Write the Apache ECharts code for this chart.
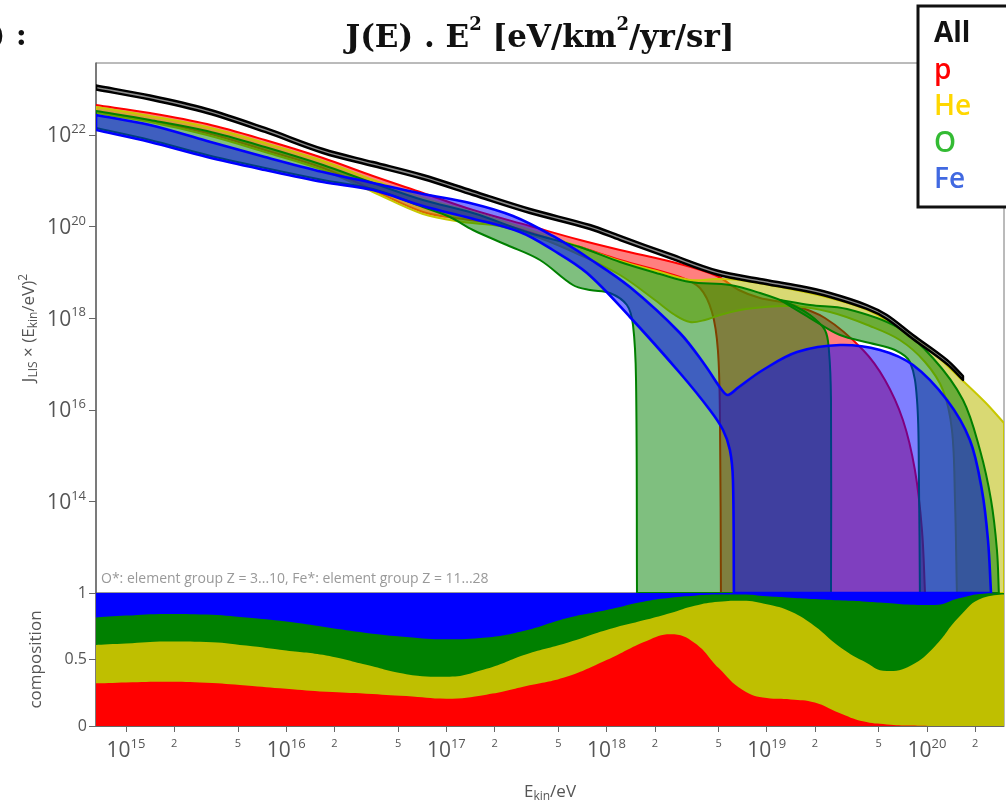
<!DOCTYPE html>
<html>
<head>
<meta charset="utf-8">
<script src="https://cdn.jsdelivr.net/npm/echarts@6.0.0/dist/echarts.min.js"></script>
<style>
  html, body { margin: 0; padding: 0; background: #fff; }
  #chart { width: 1006px; height: 803px; }
</style>
</head>
<body>
<div id="chart"></div>
<script>
// Energy axis in log10(E_kin / eV); flux axis in log10(J_LIS * E^2)
const xTickExponents = [15, 16, 17, 18, 19, 20];
const xMinorMultipliers = [2, 5];
const yTickExponents = [14, 16, 18, 20, 22];
const compTicks = [0, 0.5, 1];

// All-particle band [log10 E, log10 J*E^2]
const allUpper = [[14.813,23.081],[15.150,22.862],[15.506,22.568],[15.868,22.153],[16.230,21.694],[16.542,21.410],[16.854,21.127],[17.166,20.777],[17.522,20.384],[17.896,20.035],[18.084,19.795],[18.396,19.402],[18.689,19.041],[18.958,18.856],[19.207,18.703],[19.395,18.550],[19.625,18.288],[19.750,18.070],[19.913,17.633],[20.125,17.087],[20.225,16.738]];
const allLower = [[14.813,22.993],[15.150,22.775],[15.506,22.480],[15.868,22.066],[16.230,21.607],[16.542,21.323],[16.854,21.039],[17.166,20.690],[17.522,20.297],[17.896,19.948],[18.084,19.707],[18.396,19.314],[18.689,18.954],[18.958,18.769],[19.207,18.616],[19.395,18.463],[19.625,18.201],[19.750,17.983],[19.913,17.546],[20.125,17.000],[20.225,16.651]];

// Proton band
const pUpper = [[14.813,22.655],[15.150,22.480],[15.506,22.240],[15.868,21.891],[16.230,21.498],[16.542,21.105],[16.854,20.734],[17.166,20.362],[17.522,20.013],[17.834,19.707],[18.084,19.489],[18.458,19.183],[18.689,18.921],[18.826,18.616],[18.958,18.441],[19.145,18.310],[19.363,18.004],[19.601,17.306],[19.738,16.651],[19.850,15.777],[19.925,14.686],[19.969,13.376],[19.988,12.000]];
const pLower = [[14.813,22.502],[15.150,22.306],[15.506,22.044],[15.868,21.672],[16.230,21.279],[16.542,20.799],[16.854,20.319],[17.104,20.166],[17.335,20.057],[17.522,19.882],[17.834,19.555],[18.084,19.271],[18.458,18.900],[18.583,18.659],[18.658,18.135],[18.695,17.306],[18.708,15.777],[18.714,12.000]];

// Helium band
const heUpper = [[14.813,22.611],[15.150,22.415],[15.506,22.175],[15.868,21.825],[16.230,21.432],[16.542,21.017],[16.854,20.624],[17.166,20.319],[17.522,19.926],[17.834,19.555],[18.084,19.249],[18.333,19.009],[18.521,18.834],[18.689,18.856],[18.826,18.834],[19.082,18.681],[19.395,18.441],[19.644,18.157],[19.831,17.764],[20.019,17.306],[20.206,16.694],[20.362,16.170],[20.481,15.712]];
const heLower = [[14.813,22.480],[15.150,22.284],[15.506,22.000],[15.868,21.629],[16.230,21.236],[16.542,20.755],[16.854,20.275],[17.104,20.100],[17.335,20.013],[17.584,19.751],[17.834,19.380],[18.084,18.943],[18.302,18.397],[18.427,18.070],[18.521,17.917],[18.614,17.961],[18.708,18.070],[18.870,18.201],[19.145,18.266],[19.395,18.135],[19.644,17.830],[19.831,17.524],[19.988,17.044],[20.100,16.432],[20.156,15.559],[20.175,14.031],[20.187,12.000],[20.481,12.000]];

// O* group band (two components)
const oUpper = [[14.813,22.524],[15.150,22.328],[15.506,22.087],[15.868,21.738],[16.230,21.345],[16.542,20.952],[16.854,20.581],[17.166,20.297],[17.522,19.860],[17.834,19.555],[18.084,19.227],[18.333,18.965],[18.521,18.790],[18.770,18.725],[18.958,18.550],[19.145,18.310],[19.270,18.070],[19.363,17.742],[19.388,17.306],[19.401,16.214],[19.401,12.000]];
const oLower = [[14.813,22.153],[15.150,21.891],[15.506,21.563],[15.868,21.279],[16.230,21.017],[16.542,20.821],[16.854,20.428],[17.022,20.210],[17.166,19.926],[17.378,19.598],[17.584,19.271],[17.790,18.725],[17.896,18.616],[18.021,18.550],[18.127,18.288],[18.165,17.852],[18.184,16.651],[18.190,12.000]];
const oHighUpper = [[19.082,18.397],[19.270,18.288],[19.501,18.201],[19.813,17.808],[20.037,17.131],[20.225,16.214],[20.331,15.122],[20.400,14.031],[20.437,12.939],[20.449,12.000]];
const oHighLower = [[19.082,18.397],[19.270,18.004],[19.457,17.633],[19.644,17.459],[19.800,17.306],[19.894,17.044],[19.938,16.214],[19.950,14.467],[19.956,12.000]];

// Fe* group band
const feUpper = [[14.813,22.437],[15.150,22.218],[15.506,21.869],[15.868,21.520],[16.230,21.192],[16.542,20.952],[16.854,20.712],[17.147,20.515],[17.416,20.231],[17.665,19.795],[17.896,19.293],[18.146,18.681],[18.458,17.677],[18.614,16.978],[18.720,16.432],[18.758,16.323],[18.826,16.498],[18.976,16.869],[19.189,17.262],[19.457,17.415],[19.707,17.306],[19.913,16.978],[20.125,16.214],[20.268,15.341],[20.343,14.249],[20.381,13.157],[20.400,12.000]];
const feLower = [[14.813,22.109],[15.150,21.847],[15.506,21.520],[15.868,21.236],[16.230,20.974],[16.542,20.799],[16.854,20.450],[17.147,20.188],[17.459,19.882],[17.665,19.489],[17.878,18.987],[18.146,18.026],[18.458,16.803],[18.645,15.996],[18.727,15.559],[18.770,15.122],[18.789,14.467],[18.795,12.000]];

// Composition fractions vs log10 E
const compEnergy = [14.8,15.0,15.25,15.5,15.75,16.0,16.25,16.5,16.75,17.0,17.25,17.5,17.75,18.0,18.25,18.4,18.55,18.7,18.85,19.0,19.15,19.3,19.45,19.6,19.75,19.9,20.05,20.2,20.35,20.5];
const compP  = [0.32,0.328,0.333,0.325,0.305,0.28,0.257,0.243,0.225,0.205,0.235,0.30,0.37,0.496,0.64,0.69,0.625,0.436,0.27,0.21,0.20,0.177,0.10,0.035,0.012,0.003,0,0,0,0];
const compHe = [0.289,0.292,0.302,0.307,0.30,0.287,0.273,0.217,0.165,0.165,0.195,0.24,0.254,0.226,0.16,0.16,0.28,0.499,0.672,0.705,0.66,0.573,0.50,0.455,0.401,0.452,0.60,0.82,0.965,0.99];
const compO  = [0.206,0.21,0.208,0.206,0.21,0.218,0.212,0.24,0.28,0.282,0.235,0.18,0.186,0.15,0.14,0.115,0.075,0.053,0.046,0.06,0.105,0.205,0.345,0.447,0.512,0.457,0.31,0.14,0.03,0.01];
const compFe = [0.185,0.17,0.157,0.162,0.185,0.215,0.258,0.30,0.33,0.348,0.335,0.28,0.19,0.128,0.06,0.035,0.02,0.012,0.012,0.025,0.035,0.045,0.055,0.063,0.075,0.088,0.09,0.04,0.005,0];

const legendNames = ['All', 'p', 'He', 'O', 'Fe'];
const legendColors = ['#111111', '#ff0000', '#ffd700', '#33bb33', '#4169e1'];

const X_MIN = 14.813, X_MAX = 20.481, Y_MIN = 12, Y_MAX = 23.572;
const SANS = "'Open Sans', 'Noto Sans', sans-serif";
const SERIF = "'DejaVu Serif', serif";
const LABEL = '#555';

const xTicks = [];
xTickExponents.forEach(e => {
  xTicks.push(e);
  xMinorMultipliers.forEach(m => {
    const v = e + Math.log10(m);
    if (v <= X_MAX) xTicks.push(v);
  });
});
xTicks.sort((a, b) => a - b);

const powRich = {
  b: { fontFamily: SANS, fontSize: 21, lineHeight: 24, verticalAlign: 'bottom', color: LABEL },
  s: { fontFamily: SANS, fontSize: 13, lineHeight: 12, verticalAlign: 'top', color: LABEL },
  m: { fontFamily: SANS, fontSize: 11, lineHeight: 12, verticalAlign: 'top', color: LABEL }
};
const nameRich = {
  n: { fontFamily: SANS, fontSize: 17, lineHeight: 22, verticalAlign: 'middle', color: LABEL, fill: LABEL },
  sub: { fontFamily: SANS, fontSize: 12, lineHeight: 14, verticalAlign: 'bottom', color: LABEL, fill: LABEL },
  sup: { fontFamily: SANS, fontSize: 12, lineHeight: 12, verticalAlign: 'top', color: LABEL, fill: LABEL }
};

// Filled uncertainty band: upper edge left to right, lower edge back
function bandSeries(name, upper, lower, fill, stroke, lineWidth) {
  return {
    type: 'custom',
    name: name,
    xAxisIndex: 0,
    yAxisIndex: 0,
    data: upper.concat(lower.slice().reverse()),
    clip: true,
    silent: true,
    renderItem: function (params, api) {
      if (params.dataIndex !== 0) return null;
      const cs = params.coordSys;
      const pts = [];
      const add = (arr, i) => {
        const c = api.coord(arr[i]);
        pts.push(c);
        if (i === 0 || i === arr.length - 1 || arr[i][1] <= Y_MIN) pts.push(c.slice());
      };
      for (let i = 0; i < upper.length; i++) add(upper, i);
      for (let i = lower.length - 1; i >= 0; i--) add(lower, i);
      return {
        type: 'polygon',
        shape: {
          points: pts,
          smooth: 0.35,
          smoothConstraint: [[cs.x, cs.y], [cs.x + cs.width, cs.y + cs.height]]
        },
        style: { fill: fill, stroke: stroke, lineWidth: lineWidth, lineJoin: 'round' }
      };
    }
  };
}

// Cumulative composition layers, painted from the top layer down
const layers = [compP, compHe, compO, compFe];
const cumulative = layers.map((_, k) =>
  compEnergy.map((e, i) => {
    let s = 0;
    for (let j = 0; j <= k; j++) s += layers[j][i];
    return [e, Math.min(1, s)];
  })
);

function compSeries(name, data, color) {
  return {
    type: 'line',
    name: name,
    xAxisIndex: 1,
    yAxisIndex: 1,
    smooth: 0.45,
    symbol: 'none',
    silent: true,
    lineStyle: { width: 0 },
    areaStyle: { color: color, opacity: 1, origin: 'start' },
    data: data
  };
}

const chart = echarts.init(document.getElementById('chart'), null, { renderer: 'canvas' });

const legendChildren = [{
  type: 'rect',
  shape: { x: 918, y: 6, width: 110, height: 201 },
  style: { fill: '#fff', stroke: '#111', lineWidth: 3 }
}];
legendNames.forEach((n, i) => {
  legendChildren.push({
    type: 'text',
    x: 934,
    y: 34 + i * 36.6,
    style: {
      text: n,
      fill: legendColors[i],
      font: (i === 0 ? 'bold ' : '600 ') + '28px ' + SANS,
      verticalAlign: 'middle',
      align: 'left'
    }
  });
});

chart.setOption({
  animation: false,
  backgroundColor: '#fff',
  grid: [
    { left: 96, top: 63, width: 908, height: 530, show: true, borderColor: '#777', borderWidth: 1, backgroundColor: 'transparent', outerBoundsMode: 'none' },
    { left: 96, top: 593, width: 908, height: 133, show: true, borderColor: '#777', borderWidth: 1, backgroundColor: 'transparent', outerBoundsMode: 'none' }
  ],
  xAxis: [
    { gridIndex: 0, type: 'value', min: X_MIN, max: X_MAX, show: false },
    {
      gridIndex: 1, type: 'value', min: X_MIN, max: X_MAX,
      axisLine: { show: true, onZero: false, lineStyle: { color: '#666', width: 1 } },
      axisTick: { show: true, customValues: xTicks, length: 6, lineStyle: { color: '#666' } },
      axisLabel: {
        show: true,
        customValues: xTicks,
        margin: 12,
        formatter: function (v) {
          const e = Math.floor(v + 1e-6);
          const frac = v - e;
          if (frac < 1e-3) return '{b|10}{s|' + e + '}';
          return '{m|' + Math.round(Math.pow(10, frac)) + '}';
        },
        rich: powRich
      },
      splitLine: { show: false },
      name: '{n|E}{sub|kin}{n|/eV}',
      nameLocation: 'middle',
      nameGap: 55,
      nameTextStyle: { rich: nameRich }
    }
  ],
  yAxis: [
    {
      gridIndex: 0, type: 'value', min: Y_MIN, max: Y_MAX,
      axisLine: { show: true, onZero: false, lineStyle: { color: '#666', width: 1.5 } },
      axisTick: { show: true, customValues: yTickExponents, length: 7, lineStyle: { color: '#666' } },
      axisLabel: {
        show: true,
        customValues: yTickExponents,
        margin: 10,
        formatter: v => '{b|10}{s|' + v + '}',
        rich: powRich
      },
      splitLine: { show: false }
    },
    {
      gridIndex: 1, type: 'value', min: 0, max: 1, interval: 0.5,
      axisLine: { show: true, onZero: false, lineStyle: { color: '#666', width: 1.5 } },
      axisTick: { show: true, length: 7, lineStyle: { color: '#666' } },
      axisLabel: {
        show: true, margin: 9, color: LABEL, fontFamily: SANS, fontSize: 16,
        formatter: v => (compTicks.indexOf(v) >= 0 ? String(v) : '')
      },
      splitLine: { show: false },
      name: 'composition',
      nameLocation: 'middle',
      nameGap: 51,
      nameTextStyle: { fontFamily: SANS, fontSize: 17, color: LABEL }
    }
  ],
  graphic: [
    {
      type: 'text', x: 540, y: 35, z: 50,
      style: {
        text: '{t|J(E) . E}{ts|2}{t| [eV/km}{ts|2}{t|/yr/sr]}',
        align: 'center', verticalAlign: 'middle',
        rich: {
          t: { fontFamily: SERIF, fontWeight: 'bold', fontSize: 31, lineHeight: 38, verticalAlign: 'bottom', fill: '#111' },
          ts: { fontFamily: SERIF, fontWeight: 'bold', fontSize: 18, lineHeight: 21, verticalAlign: 'top', fill: '#111' }
        }
      }
    },
    {
      type: 'text', x: -9, y: 37, z: 50,
      style: { text: ') :', font: 'bold 30px ' + SERIF, fill: '#111', verticalAlign: 'middle', align: 'left' }
    },
    {
      // flux axis title, rotated to read upwards
      type: 'text', x: 29, y: 328, rotation: Math.PI / 2, z: 50,
      style: {
        text: '{n|J}{sub|LIS}{n| × (E}{sub|kin}{n|/eV)}{sup|2}',
        align: 'center', verticalAlign: 'middle',
        rich: nameRich
      }
    },
    {
      type: 'text', x: 101, y: 579, z: 50,
      style: {
        text: 'O*: element group Z = 3...10, Fe*: element group Z = 11...28',
        font: '14px ' + SANS, fill: '#999', verticalAlign: 'middle', align: 'left'
      }
    },
    { type: 'group', z: 100, children: legendChildren }
  ],
  series: [
    bandSeries('p', pUpper, pLower, 'rgba(255,0,0,0.5)', '#ff0000', 2),
    bandSeries('He', heUpper, heLower, 'rgba(185,185,0,0.55)', '#c8c800', 2),
    bandSeries('O', oUpper, oLower, 'rgba(0,128,0,0.5)', '#008000', 2),
    bandSeries('O', oHighUpper, oHighLower, 'rgba(0,128,0,0.5)', '#008000', 2),
    bandSeries('Fe', feUpper, feLower, 'rgba(0,0,255,0.5)', '#0000ff', 2.6),
    bandSeries('All', allUpper, allLower, 'rgba(120,120,120,0.85)', '#000000', 2.4),
    compSeries('Fe', cumulative[3], '#0000ff'),
    compSeries('O', cumulative[2], '#008000'),
    compSeries('He', cumulative[1], '#bfbf00'),
    compSeries('p', cumulative[0], '#ff0000')
  ]
});
</script>
</body>
</html>
